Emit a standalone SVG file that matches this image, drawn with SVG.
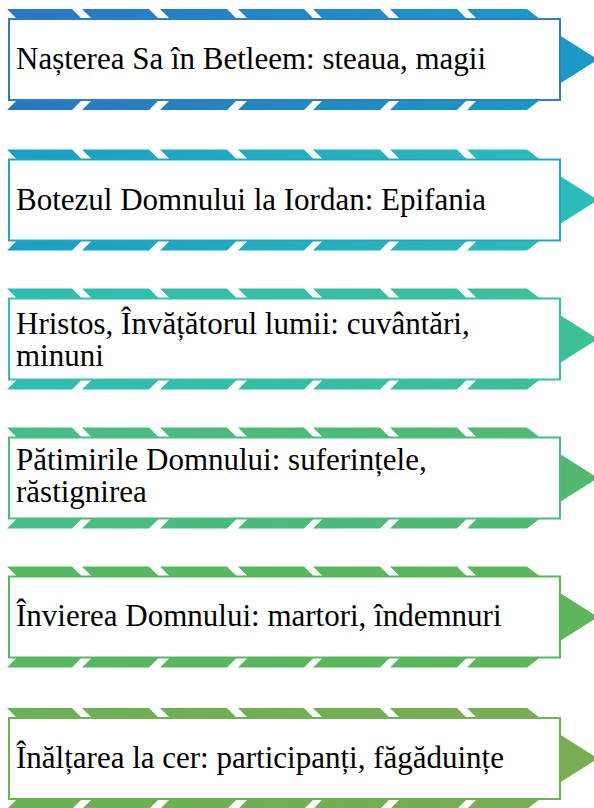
<svg xmlns="http://www.w3.org/2000/svg" width="594" height="808" viewBox="0 0 594 808">
<style>
.box{fill:#ffffff;stroke-width:2}
.t{font-family:'Liberation Serif','DejaVu Serif',serif;font-size:31px;fill:#000000}
</style>
<defs>
<path id="band" d="M7,0H72L82,10H17Z M82,0H149L159,10H92Z M160,0H227L237,10H170Z M238,0H304L314,10H248Z M313,0H380L390,10H323Z M390,0H457L467,10H400Z M467,0H527L540,10H477Z
M17,91H82L72,101H7Z M92,91H159L149,101H82Z M170,91H237L227,101H160Z M248,91H314L304,101H238Z M323,91H390L380,101H313Z M400,91H467L457,101H390Z M477,91H540L527,101H467Z
M556,24L598,50.5L556,77Z"/>
<linearGradient id="g1" x1="0" y1="0" x2="594" y2="0" gradientUnits="userSpaceOnUse"><stop offset="0" stop-color="#2a76c2"/><stop offset="1" stop-color="#1a9bc6"/></linearGradient>
<linearGradient id="g2" x1="0" y1="0" x2="594" y2="0" gradientUnits="userSpaceOnUse"><stop offset="0" stop-color="#1c9cc6"/><stop offset="1" stop-color="#2cbfb8"/></linearGradient>
<linearGradient id="g3" x1="0" y1="0" x2="594" y2="0" gradientUnits="userSpaceOnUse"><stop offset="0" stop-color="#2cbdb4"/><stop offset="1" stop-color="#3fbf94"/></linearGradient>
<linearGradient id="g4" x1="0" y1="0" x2="594" y2="0" gradientUnits="userSpaceOnUse"><stop offset="0" stop-color="#46bd88"/><stop offset="1" stop-color="#52b86c"/></linearGradient>
<linearGradient id="g5" x1="0" y1="0" x2="594" y2="0" gradientUnits="userSpaceOnUse"><stop offset="0" stop-color="#55b862"/><stop offset="1" stop-color="#5db659"/></linearGradient>
<linearGradient id="g6" x1="0" y1="0" x2="594" y2="0" gradientUnits="userSpaceOnUse"><stop offset="0" stop-color="#69b256"/><stop offset="1" stop-color="#7aad50"/></linearGradient>
</defs>
<g id="connectors"/>
<g id="node1">
<use href="#band" transform="translate(0,9)" fill="url(#g1)"/>
<rect class="box" x="9" y="19" width="551" height="81" stroke="#2c7ec6"/>
<text class="t" x="16" y="69">Nașterea Sa în Betleem: steaua, magii</text>
</g>
<g id="node2">
<use href="#band" transform="translate(0,149.5)" fill="url(#g2)"/>
<rect class="box" x="9" y="159.5" width="551" height="81" stroke="#1ea7c4"/>
<text class="t" x="16" y="209.5">Botezul Domnului la Iordan: Epifania</text>
</g>
<g id="node3">
<use href="#band" transform="translate(0,288.5)" fill="url(#g3)"/>
<rect class="box" x="9" y="298.5" width="551" height="81" stroke="#36c0aa"/>
<text class="t" x="16" y="334">Hristos, Învățătorul lumii: cuvântări,</text>
<text class="t" x="16" y="366">minuni</text>
</g>
<g id="node4">
<use href="#band" transform="translate(0,427.5)" fill="url(#g4)"/>
<rect class="box" x="9" y="437.5" width="551" height="81" stroke="#4cbd80"/>
<text class="t" x="16" y="470">Pătimirile Domnului: suferințele,</text>
<text class="t" x="16" y="502">răstignirea</text>
</g>
<g id="node5">
<use href="#band" transform="translate(0,566.5)" fill="url(#g5)"/>
<rect class="box" x="9" y="576.5" width="551" height="81" stroke="#58b860"/>
<text class="t" x="16" y="626">Învierea Domnului: martori, îndemnuri</text>
</g>
<g id="node6">
<use href="#band" transform="translate(0,708)" fill="url(#g6)"/>
<rect class="box" x="9" y="718" width="551" height="81" stroke="#6fb155"/>
<text class="t" x="16" y="768">Înălțarea la cer: participanți, făgăduințe</text>
</g>
</svg>
